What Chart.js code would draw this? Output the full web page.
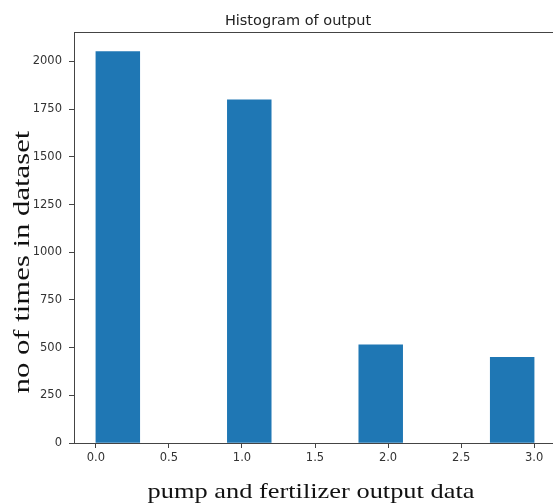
<!DOCTYPE html>
<html>
<head>
<meta charset="utf-8">
<script src="https://cdn.jsdelivr.net/npm/chart.js@4"></script>
<style>
  html, body { margin: 0; padding: 0; background: #fff; overflow: hidden; }
  #wrap { width: 556px; height: 504px; }
</style>
</head>
<body>
<div id="wrap"><canvas id="hist"></canvas></div>
<script>
// histogram of output, 10 bins over 0..3
var binCenters = [0.15, 0.45, 0.75, 1.05, 1.35, 1.65, 1.95, 2.25, 2.55, 2.85];
var counts = [2052, 0, 0, 1799, 0, 0, 514, 0, 0, 449];
var xTicks = [0.0, 0.5, 1.0, 1.5, 2.0, 2.5, 3.0];
var yTicks = [0, 250, 500, 750, 1000, 1250, 1500, 1750, 2000];

var titleText = 'Histogram of output';
var xLabel = 'pump and fertilizer output data';
var yLabel = 'no of times in dataset';

var barColor = '#1f77b4';
var axisColor = '#444';
var tickFont = { family: 'DejaVu Sans', size: 11.5 };

var points = binCenters.map(function (c, i) { return { x: c, y: counts[i] }; });

// top spine like matplotlib, title and the two serif axis labels
var framePlugin = {
  id: 'frame',
  afterDraw: function (chart) {
    var a = chart.chartArea;
    var ctx = chart.ctx;
    ctx.save();
    ctx.strokeStyle = axisColor;
    ctx.lineWidth = 1;
    ctx.beginPath();
    ctx.moveTo(a.left, Math.round(a.top) + 0.5);
    ctx.lineTo(a.right, Math.round(a.top) + 0.5);
    ctx.stroke();

    // title
    ctx.fillStyle = '#222';
    ctx.font = '14.5px "DejaVu Sans"';
    ctx.textAlign = 'center';
    ctx.textBaseline = 'alphabetic';
    ctx.fillText(titleText, 298, 25);

    ctx.fillStyle = '#111';
    // x label
    ctx.save();
    ctx.font = '22px "Liberation Serif"';
    ctx.translate(311, 498);
    ctx.scale(1.2, 1);
    ctx.fillText(xLabel, 0, 0);
    ctx.restore();
    // y label
    ctx.save();
    ctx.font = '24px "Liberation Serif"';
    ctx.translate(29, 262);
    ctx.rotate(-Math.PI / 2);
    ctx.scale(1.28, 1);
    ctx.fillText(yLabel, 0, 0);
    ctx.restore();
    ctx.restore();
  }
};

var ctx = document.getElementById('hist').getContext('2d');
new Chart(ctx, {
  type: 'bar',
  data: {
    datasets: [{
      data: points,
      backgroundColor: function (c) {
        return c.raw && c.raw.y > 0 ? barColor : 'rgba(0,0,0,0)';
      },
      borderWidth: 0,
      barPercentage: 1.0,
      categoryPercentage: 1.0
    }]
  },
  options: {
    responsive: true,
    maintainAspectRatio: false,
    animation: false,
    events: [],
    layout: { padding: { top: 32, left: 0, right: 0, bottom: 0 } },
    plugins: {
      legend: { display: false },
      tooltip: { enabled: false },
      title: { display: false }
    },
    scales: {
      x: {
        type: 'linear',
        min: -0.15,
        max: 3.15,
        offset: false,
        afterBuildTicks: function (scale) {
          scale.ticks = xTicks.map(function (v) { return { value: v }; });
        },
        afterFit: function (scale) { scale.height = 61; },
        ticks: {
          color: '#333',
          font: tickFont,
          padding: 3,
          maxRotation: 0,
          autoSkip: false,
          callback: function (v) { return Number(v).toFixed(1); }
        },
        grid: { drawOnChartArea: false, offset: false, tickLength: 5, color: axisColor },
        border: { color: axisColor, width: 1 }
      },
      y: {
        min: 0,
        max: Math.max.apply(null, counts) * 1.05,
        afterBuildTicks: function (scale) {
          scale.ticks = yTicks.map(function (v) { return { value: v }; });
        },
        afterFit: function (scale) { scale.width = 74; },
        ticks: {
          color: '#333',
          font: tickFont,
          padding: 7,
          autoSkip: false,
          callback: function (v) { return String(v); }
        },
        grid: { drawOnChartArea: false, tickLength: 5, color: axisColor },
        border: { color: axisColor, width: 1 }
      }
    }
  },
  plugins: [framePlugin]
});
</script>
</body>
</html>
